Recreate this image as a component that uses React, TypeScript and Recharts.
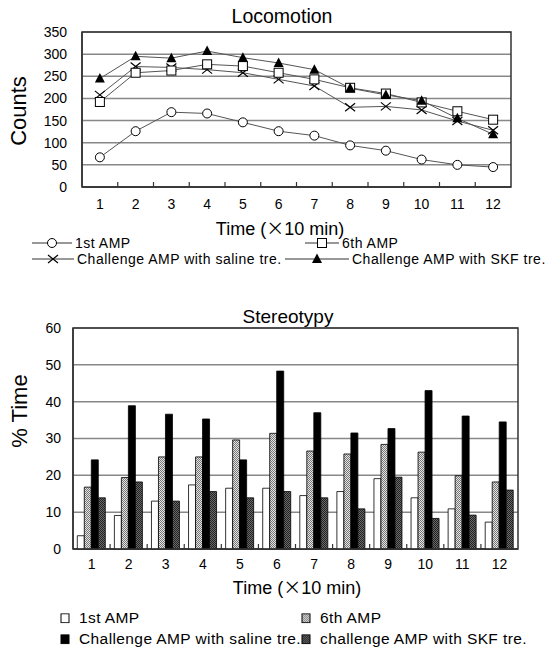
import { LineChart, Line, BarChart, Bar, XAxis, YAxis, CartesianGrid, ReferenceArea } from 'recharts';

const FONT = '"Liberation Sans", Arial, sans-serif';

// time bins (x 10 min)
const timePoints = [1, 2, 3, 4, 5, 6, 7, 8, 9, 10, 11, 12];

// Locomotion counts
const locoFirst = [67, 126, 169, 166, 146, 126, 116, 94, 82, 62, 50, 45];
const locoSixth = [192, 258, 263, 277, 273, 258, 243, 224, 211, 191, 171, 152];
const locoSaline = [208, 272, 270, 265, 258, 243, 228, 180, 182, 174, 149, 128];
const locoSkf = [245, 295, 291, 307, 292, 280, 265, 223, 208, 195, 155, 119];
const locoTicks = [0, 50, 100, 150, 200, 250, 300, 350];

// Stereotypy % time
const stereoFirst = [3.6, 9.1, 13, 17.4, 16.5, 16.5, 14.5, 15.6, 19.1, 13.9, 10.9, 7.3];
const stereoSixth = [16.8, 19.4, 25, 25, 29.6, 31.4, 26.6, 25.8, 28.4, 26.3, 19.9, 18.2];
const stereoSaline = [24.2, 38.9, 36.6, 35.3, 24.2, 48.3, 37, 31.5, 32.7, 43, 36.1, 34.5];
const stereoSkf = [13.9, 18.2, 13, 15.6, 13.9, 15.6, 13.9, 10.9, 19.5, 8.3, 9.2, 16];
const stereoTicks = [0, 10, 20, 30, 40, 50, 60];

const locoData = timePoints.map((t, i) => ({
  t,
  first: locoFirst[i],
  sixth: locoSixth[i],
  saline: locoSaline[i],
  skf: locoSkf[i],
}));

const stereoData = timePoints.map((t, i) => ({
  t,
  first: stereoFirst[i],
  sixth: stereoSixth[i],
  saline: stereoSaline[i],
  skf: stereoSkf[i],
}));

// integer ticks get a label, half ticks are the category boundary marks
const locoAxisTicks = timePoints.flatMap((t, i) => (i < timePoints.length - 1 ? [t, t + 0.5] : [t]));

const W = 557;
const BAR_MARGIN = { top: 38, right: 39, left: 0, bottom: 0 };
const BAR_YW = 73;
const BAR_HALF = (W - BAR_MARGIN.right - BAR_YW) / timePoints.length / 2;

// stipple fills used by bars and legend
const PATTERNS: Record<string, { bg: string; dot: string }> = {
  p6: { bg: '#e4e4e4', dot: '#777' },
  pskf: { bg: '#6a6a6a', dot: '#222' },
};

function Stipple({ id }: { id: string }) {
  const c = PATTERNS[id];
  return (
    <pattern id={id} width={2} height={2} patternUnits="userSpaceOnUse">
      <rect width={2} height={2} fill={c.bg} />
      <rect width={1} height={1} fill={c.dot} />
      <rect x={1} y={1} width={1} height={1} fill={c.dot} />
    </pattern>
  );
}

// markers
const circleDot = (p: any) => (
  <circle key={`c${p.index}`} cx={p.cx} cy={p.cy} r={4.5} fill="#fff" stroke="#000" strokeWidth={1} />
);
const squareDot = (p: any) => (
  <rect key={`s${p.index}`} x={p.cx - 4.5} y={p.cy - 4.5} width={9} height={9} fill="#fff" stroke="#000" strokeWidth={1} />
);
const crossDot = (p: any) => (
  <path
    key={`x${p.index}`}
    d={`M${p.cx - 5},${p.cy - 4}L${p.cx + 5},${p.cy + 4}M${p.cx - 5},${p.cy + 4}L${p.cx + 5},${p.cy - 4}`}
    stroke="#000"
    strokeWidth={1.2}
    fill="none"
  />
);
const triDot = (p: any) => (
  <path key={`t${p.index}`} d={`M${p.cx},${p.cy - 5.5}L${p.cx + 5},${p.cy + 4}L${p.cx - 5},${p.cy + 4}Z`} fill="#000" />
);

function LocoXTick(props: any) {
  const { x, y, payload } = props;
  const v = payload.value as number;
  if (!Number.isInteger(v)) {
    return <line x1={x} x2={x} y1={y} y2={y - 5} stroke="#333" strokeWidth={1.2} />;
  }
  return (
    <text x={x} y={y + 17} dy="0.35em" textAnchor="middle" fontSize={14} fontFamily={FONT} fill="#000">
      {v}
    </text>
  );
}

function StereoXTick(props: any) {
  const { x, y, payload, index } = props;
  const half = payload.offset || BAR_HALF;
  return (
    <g>
      {index < timePoints.length - 1 && (
        <line x1={x + half} x2={x + half} y1={y} y2={y - 5} stroke="#333" strokeWidth={1.2} />
      )}
      <text x={x} y={y + 15} dy="0.35em" textAnchor="middle" fontSize={14} fontFamily={FONT} fill="#000">
        {payload.value}
      </text>
    </g>
  );
}

function Label({ x, y, size, children, rotate, style }: any) {
  return (
    <div
      style={{
        position: 'absolute',
        left: x,
        top: y,
        transform: `translate(-50%, -50%)${rotate ? ' rotate(-90deg)' : ''}`,
        fontFamily: FONT,
        fontSize: size,
        lineHeight: 1,
        whiteSpace: 'nowrap',
        color: '#000',
        ...style,
      }}
    >
      {children}
    </div>
  );
}

const TimeTitle = () => (
  <>
    Time (<span style={{ fontFamily: '"Noto Sans CJK JP", sans-serif' }}>×</span>10 min)
  </>
);

function LineIcon({ kind, w }: { kind: string; w: number }) {
  const cx = w / 2;
  const cy = 7;
  return (
    <svg width={w} height={14} style={{ display: 'block' }}>
      <line x1={0} x2={w} y1={cy} y2={cy} stroke="#333" strokeWidth={1} />
      {kind === 'circle' && circleDot({ cx, cy, index: 0 })}
      {kind === 'square' && squareDot({ cx, cy, index: 0 })}
      {kind === 'cross' && crossDot({ cx, cy, index: 0 })}
      {kind === 'tri' && triDot({ cx, cy, index: 0 })}
    </svg>
  );
}

function LineLegendItem({ x, y, kind, text, w = 40 }: any) {
  return (
    <div
      style={{
        position: 'absolute',
        left: x,
        top: y,
        transform: 'translateY(-50%)',
        display: 'flex',
        alignItems: 'center',
        gap: 3,
        fontFamily: FONT,
        fontSize: 14,
        letterSpacing: 0.5,
        whiteSpace: 'nowrap',
        lineHeight: 1,
      }}
    >
      <LineIcon kind={kind} w={w} />
      <span>{text}</span>
    </div>
  );
}

function BarLegendItem({ x, y, fill, text }: any) {
  const pid = `lg-${fill}`;
  const isPattern = fill in PATTERNS;
  return (
    <div
      style={{
        position: 'absolute',
        left: x,
        top: y,
        transform: 'translateY(-50%)',
        display: 'flex',
        alignItems: 'center',
        gap: 9,
        fontFamily: FONT,
        fontSize: 15.5,
        letterSpacing: 0.4,
        whiteSpace: 'nowrap',
        lineHeight: 1,
      }}
    >
      <svg width={10} height={10} style={{ display: 'block' }}>
        {isPattern && (
          <defs>
            <pattern id={pid} width={2} height={2} patternUnits="userSpaceOnUse">
              <rect width={2} height={2} fill={PATTERNS[fill].bg} />
              <rect width={1} height={1} fill={PATTERNS[fill].dot} />
              <rect x={1} y={1} width={1} height={1} fill={PATTERNS[fill].dot} />
            </pattern>
          </defs>
        )}
        <rect
          x={1}
          y={0.5}
          width={8}
          height={9}
          fill={isPattern ? `url(#${pid})` : fill}
          stroke="#000"
          strokeWidth={1}
        />
      </svg>
      <span>{text}</span>
    </div>
  );
}

export default function App() {
  return (
    <div style={{ position: 'absolute', left: 0, top: 0, width: W, height: 650, background: '#fff' }}>
      {/* Locomotion */}
      <div style={{ position: 'absolute', left: 0, top: 0 }}>
        <LineChart width={W} height={215} data={locoData} margin={{ top: 32, right: 46, left: 0, bottom: 0 }}>
          <CartesianGrid vertical={false} stroke="#888" strokeWidth={1.5} />
          <XAxis
            dataKey="t"
            type="number"
            domain={[0.5, 12.5]}
            ticks={locoAxisTicks}
            interval={0}
            tick={<LocoXTick />}
            tickLine={false}
            tickSize={0}
            tickMargin={0}
            height={28}
            axisLine={{ stroke: '#333', strokeWidth: 1.5 }}
            allowDataOverflow
          />
          <YAxis
            domain={[0, 350]}
            ticks={locoTicks}
            interval={0}
            width={82}
            tickLine={false}
            tickSize={0}
            tickMargin={15}
            axisLine={{ stroke: '#333', strokeWidth: 1.5 }}
            tick={{ fontSize: 14, fill: '#000', fontFamily: FONT }}
          />
          <ReferenceArea y1={0} y2={350} fill="none" stroke="#333" strokeWidth={1.5} ifOverflow="visible" />
          <Line dataKey="first" type="linear" stroke="#555" strokeWidth={1} dot={circleDot} isAnimationActive={false} />
          <Line dataKey="saline" type="linear" stroke="#555" strokeWidth={1} dot={crossDot} isAnimationActive={false} />
          <Line dataKey="sixth" type="linear" stroke="#555" strokeWidth={1} dot={squareDot} isAnimationActive={false} />
          <Line dataKey="skf" type="linear" stroke="#555" strokeWidth={1} dot={triDot} isAnimationActive={false} />
        </LineChart>
      </div>
      <Label x={282} y={17} size={19.5}>Locomotion</Label>
      <Label x={19} y={111} size={22} rotate>Counts</Label>
      <Label x={280} y={228} size={18}><TimeTitle /></Label>
      <LineLegendItem x={32} y={243} kind="circle" text="1st AMP" w={40} />
      <LineLegendItem x={305} y={243} kind="square" text="6th AMP" w={34} />
      <LineLegendItem x={32} y={259} kind="cross" text="Challenge AMP with saline tre." w={42} />
      <LineLegendItem x={285} y={259} kind="tri" text="Challenge AMP with SKF tre." w={64} />

      {/* Stereotypy */}
      <div style={{ position: 'absolute', left: 0, top: 290 }}>
        <BarChart
          width={W}
          height={285}
          data={stereoData}
          margin={BAR_MARGIN}
          barCategoryGap="11.6%"
          barGap={0}
        >
          <defs>
            <Stipple id="p6" />
            <Stipple id="pskf" />
          </defs>
          <CartesianGrid vertical={false} stroke="#888" strokeWidth={1.5} />
          <XAxis
            dataKey="t"
            interval={0}
            tick={<StereoXTick />}
            tickLine={false}
            tickSize={0}
            tickMargin={0}
            height={26}
            axisLine={{ stroke: '#333', strokeWidth: 1.5 }}
          />
          <YAxis
            domain={[0, 60]}
            ticks={stereoTicks}
            interval={0}
            width={BAR_YW}
            tickLine={false}
            tickSize={0}
            tickMargin={12}
            axisLine={{ stroke: '#333', strokeWidth: 1.5 }}
            tick={{ fontSize: 14, fill: '#000', fontFamily: FONT }}
          />
          <ReferenceArea y1={0} y2={60} fill="none" stroke="#333" strokeWidth={1.5} ifOverflow="visible" />
          <Bar dataKey="first" fill="#fff" stroke="#000" strokeWidth={0.8} isAnimationActive={false} />
          <Bar dataKey="sixth" fill="url(#p6)" stroke="#000" strokeWidth={0.8} isAnimationActive={false} />
          <Bar dataKey="saline" fill="#000" stroke="#000" strokeWidth={0.8} isAnimationActive={false} />
          <Bar dataKey="skf" fill="url(#pskf)" stroke="#000" strokeWidth={0.8} isAnimationActive={false} />
        </BarChart>
      </div>
      <Label x={288} y={316} size={19}>Stereotypy</Label>
      <Label x={19.5} y={411} size={22} rotate>% Time</Label>
      <Label x={297} y={587} size={18}><TimeTitle /></Label>
      <BarLegendItem x={60} y={618} fill="#fff" text="1st AMP" />
      <BarLegendItem x={301} y={618} fill="p6" text="6th AMP" />
      <BarLegendItem x={60} y={639} fill="#000" text="Challenge AMP with saline tre." />
      <BarLegendItem x={301} y={639} fill="pskf" text="challenge AMP with SKF tre." />
    </div>
  );
}
